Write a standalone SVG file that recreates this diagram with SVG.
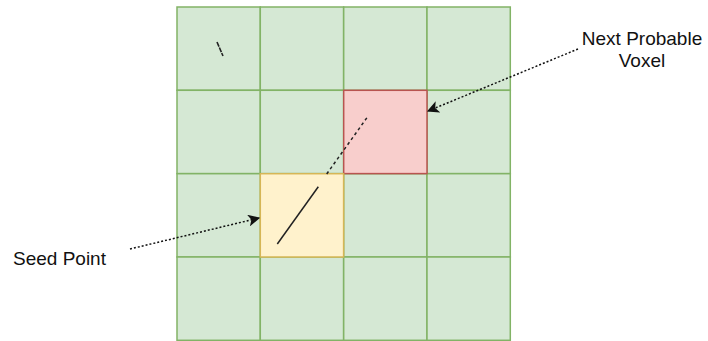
<svg xmlns="http://www.w3.org/2000/svg" width="708" height="341" viewBox="0 0 708 341">
<style>
.g{fill:#d5e8d4;stroke:#82b366;stroke-width:1.5}
.r{fill:#f8cecc;stroke:#b85450;stroke-width:1.5}
.y{fill:#fff2cc;stroke:#d6b656;stroke-width:1.5}
.t{font-family:"Liberation Sans",Arial,sans-serif;font-size:19px;fill:#111}
.c{fill:none;stroke:#111;stroke-width:1.5;stroke-dasharray:2 2}
</style>
<defs>
<marker id="ah" viewBox="0 0 10 10" refX="9" refY="5" markerWidth="12" markerHeight="12" markerUnits="userSpaceOnUse" orient="auto">
<path d="M0,0 L10,5 L0,10 L2.5,5 Z" fill="#111"/>
</marker>
</defs>
<rect width="708" height="341" fill="#fff"/>
<g id="grid">
<rect class="g" x="177" y="7" width="83.3" height="83.3"/>
<rect class="g" x="260.3" y="7" width="83.3" height="83.3"/>
<rect class="g" x="343.7" y="7" width="83.3" height="83.3"/>
<rect class="g" x="427" y="7" width="83.3" height="83.3"/>
<rect class="g" x="177" y="90.3" width="83.3" height="83.3"/>
<rect class="g" x="260.3" y="90.3" width="83.3" height="83.3"/>
<rect class="g" x="427" y="90.3" width="83.3" height="83.3"/>
<rect class="g" x="177" y="173.7" width="83.3" height="83.3"/>
<rect class="g" x="343.7" y="173.7" width="83.3" height="83.3"/>
<rect class="g" x="427" y="173.7" width="83.3" height="83.3"/>
<rect class="g" x="177" y="257" width="83.3" height="83.3"/>
<rect class="g" x="260.3" y="257" width="83.3" height="83.3"/>
<rect class="g" x="343.7" y="257" width="83.3" height="83.3"/>
<rect class="g" x="427" y="257" width="83.3" height="83.3"/>
</g>
<g id="next-voxel"><rect class="r" x="343.7" y="90.3" width="83.3" height="83.3"/></g>
<g id="seed-voxel"><rect class="y" x="260.3" y="173.7" width="83.3" height="83.3"/></g>
<g id="tracks">
<line x1="217" y1="42" x2="223" y2="56" stroke="#222" stroke-width="1.6" stroke-dasharray="5 1"/>
<line x1="277.3" y1="244" x2="318.3" y2="186.7" stroke="#222" stroke-width="1.5"/>
<line x1="326.7" y1="174" x2="368.5" y2="115.5" stroke="#222" stroke-width="1.5" stroke-dasharray="3 3"/>
</g>
<g id="connectors">
<line class="c" x1="130" y1="249" x2="259" y2="218" marker-end="url(#ah)"/>
<line class="c" x1="578" y1="49" x2="428" y2="111" marker-end="url(#ah)"/>
</g>
<g id="label-seed"><text class="t" x="13" y="265">Seed Point</text></g>
<g id="label-next">
<text class="t" x="642" y="45" text-anchor="middle">Next Probable</text>
<text class="t" x="642" y="67" text-anchor="middle">Voxel</text>
</g>
</svg>
